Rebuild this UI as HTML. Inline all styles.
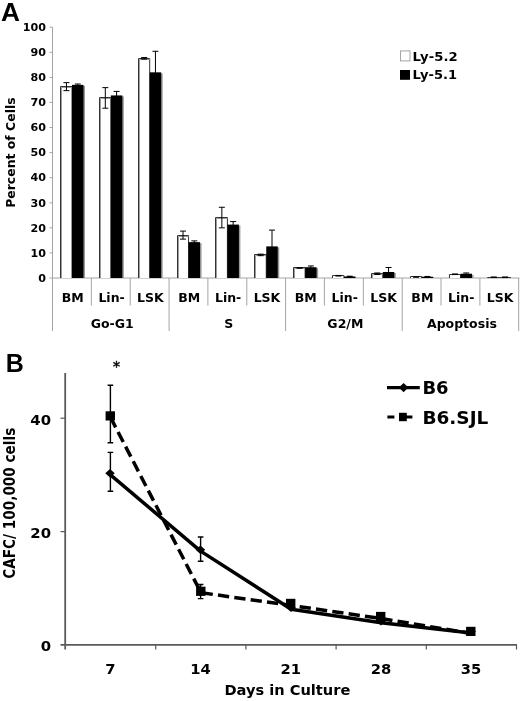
<!DOCTYPE html>
<html lang="en"><head><meta charset="utf-8"><title>Figure</title>
<style>html,body{margin:0;padding:0;background:#fff}svg{display:block}.v{font-family:"DejaVu Sans","Liberation Sans",sans-serif;font-weight:bold;fill:#000}.p{font-family:"Liberation Sans","DejaVu Sans",sans-serif;font-weight:bold;fill:#000}</style></head><body>
<svg width="520" height="701" viewBox="0 0 520 701">
<rect width="520" height="701" fill="#fff"/>
<text class="p" x="1" y="20.6" font-size="25" textLength="19" lengthAdjust="spacingAndGlyphs">A</text>
<g stroke="#a4a4a4" stroke-width="1" fill="none">
<path d="M52.5 27.2V278.0"/>
<path d="M49.5 278.0H52.5"/>
<path d="M49.5 252.9H52.5"/>
<path d="M49.5 227.8H52.5"/>
<path d="M49.5 202.8H52.5"/>
<path d="M49.5 177.7H52.5"/>
<path d="M49.5 152.6H52.5"/>
<path d="M49.5 127.5H52.5"/>
<path d="M49.5 102.4H52.5"/>
<path d="M49.5 77.4H52.5"/>
<path d="M49.5 52.3H52.5"/>
<path d="M49.5 27.2H52.5"/>
<path d="M52.5 278.0H519.5"/>
<path d="M52.5 278.0V331"/>
<path d="M91.3 278.0V305.5"/>
<path d="M130.2 278.0V305.5"/>
<path d="M169.1 278.0V331"/>
<path d="M207.9 278.0V305.5"/>
<path d="M246.8 278.0V305.5"/>
<path d="M285.6 278.0V331"/>
<path d="M324.4 278.0V305.5"/>
<path d="M363.3 278.0V305.5"/>
<path d="M402.2 278.0V331"/>
<path d="M441.0 278.0V305.5"/>
<path d="M479.9 278.0V305.5"/>
<path d="M518.7 278.0V331"/>
</g>
<text class="v" x="46.00" y="281.80" font-size="10.4" text-anchor="end" textLength="7.74" lengthAdjust="spacingAndGlyphs">0</text>
<text class="v" x="46.00" y="256.72" font-size="10.4" text-anchor="end" textLength="15.49" lengthAdjust="spacingAndGlyphs">10</text>
<text class="v" x="46.00" y="231.64" font-size="10.4" text-anchor="end" textLength="15.49" lengthAdjust="spacingAndGlyphs">20</text>
<text class="v" x="46.00" y="206.56" font-size="10.4" text-anchor="end" textLength="15.49" lengthAdjust="spacingAndGlyphs">30</text>
<text class="v" x="46.00" y="181.48" font-size="10.4" text-anchor="end" textLength="15.49" lengthAdjust="spacingAndGlyphs">40</text>
<text class="v" x="46.00" y="156.40" font-size="10.4" text-anchor="end" textLength="15.49" lengthAdjust="spacingAndGlyphs">50</text>
<text class="v" x="46.00" y="131.32" font-size="10.4" text-anchor="end" textLength="15.49" lengthAdjust="spacingAndGlyphs">60</text>
<text class="v" x="46.00" y="106.24" font-size="10.4" text-anchor="end" textLength="15.49" lengthAdjust="spacingAndGlyphs">70</text>
<text class="v" x="46.00" y="81.16" font-size="10.4" text-anchor="end" textLength="15.49" lengthAdjust="spacingAndGlyphs">80</text>
<text class="v" x="46.00" y="56.08" font-size="10.4" text-anchor="end" textLength="15.49" lengthAdjust="spacingAndGlyphs">90</text>
<text class="v" x="46.00" y="31.00" font-size="10.4" text-anchor="end" textLength="23.23" lengthAdjust="spacingAndGlyphs">100</text>
<text class="v" font-size="12.2" text-anchor="middle" textLength="110.5" lengthAdjust="spacingAndGlyphs" transform="translate(15.3 152.6) rotate(-90)">Percent of Cells</text>
<rect x="73.00" y="85.88" width="12.00" height="192.12" fill="#9a9a9a"/>
<path d="M60.50 278.0V86.50H72.00V278.0" fill="#fff" stroke="#333" stroke-width="1"/>
<path d="M61.50 278.0V87.50H72.00" fill="none" stroke="#9c9c9c" stroke-width="1"/>
<rect x="72.00" y="84.88" width="11.50" height="193.12" fill="#000"/>
<path d="M66.45 82.63V90.65M63.45 82.63h6M63.45 90.65h6" stroke="#000" stroke-width="1" fill="none"/>
<path d="M77.75 84.01V85.76M74.75 84.01h6M74.75 85.76h6" stroke="#000" stroke-width="1" fill="none"/>
<rect x="111.85" y="96.42" width="12.00" height="181.58" fill="#9a9a9a"/>
<path d="M99.50 278.0V97.50H110.85V278.0" fill="#fff" stroke="#333" stroke-width="1"/>
<path d="M100.50 278.0V98.50H110.85" fill="none" stroke="#9c9c9c" stroke-width="1"/>
<rect x="110.85" y="95.42" width="11.50" height="182.58" fill="#000"/>
<path d="M105.30 87.64V108.21M102.30 87.64h6M102.30 108.21h6" stroke="#000" stroke-width="1" fill="none"/>
<path d="M116.60 91.40V99.43M113.60 91.40h6M113.60 99.43h6" stroke="#000" stroke-width="1" fill="none"/>
<rect x="150.70" y="73.34" width="12.00" height="204.66" fill="#9a9a9a"/>
<path d="M138.50 278.0V58.50H149.70V278.0" fill="#fff" stroke="#333" stroke-width="1"/>
<path d="M139.50 278.0V59.50H149.70" fill="none" stroke="#9c9c9c" stroke-width="1"/>
<rect x="149.70" y="72.34" width="11.50" height="205.66" fill="#000"/>
<path d="M144.15 57.55V59.05M141.15 57.55h6M141.15 59.05h6" stroke="#000" stroke-width="1" fill="none"/>
<path d="M155.45 51.28V93.41M152.45 51.28h6M152.45 93.41h6" stroke="#000" stroke-width="1" fill="none"/>
<rect x="189.55" y="243.14" width="12.00" height="34.86" fill="#9a9a9a"/>
<path d="M177.50 278.0V235.50H188.55V278.0" fill="#fff" stroke="#333" stroke-width="1"/>
<path d="M178.50 278.0V236.50H188.55" fill="none" stroke="#9c9c9c" stroke-width="1"/>
<rect x="188.55" y="242.14" width="11.50" height="35.86" fill="#000"/>
<path d="M183.00 231.10V239.13M180.00 231.10h6M180.00 239.13h6" stroke="#000" stroke-width="1" fill="none"/>
<path d="M194.30 240.88V243.39M191.30 240.88h6M191.30 243.39h6" stroke="#000" stroke-width="1" fill="none"/>
<rect x="228.40" y="225.58" width="12.00" height="52.42" fill="#9a9a9a"/>
<path d="M215.50 278.0V217.50H227.40V278.0" fill="#fff" stroke="#333" stroke-width="1"/>
<path d="M216.50 278.0V218.50H227.40" fill="none" stroke="#9c9c9c" stroke-width="1"/>
<rect x="227.40" y="224.58" width="11.50" height="53.42" fill="#000"/>
<path d="M221.85 207.27V227.84M218.85 207.27h6M218.85 227.84h6" stroke="#000" stroke-width="1" fill="none"/>
<path d="M233.15 221.57V227.59M230.15 221.57h6M230.15 227.59h6" stroke="#000" stroke-width="1" fill="none"/>
<rect x="267.25" y="247.40" width="12.00" height="30.60" fill="#9a9a9a"/>
<path d="M254.50 278.0V254.50H266.25V278.0" fill="#fff" stroke="#333" stroke-width="1"/>
<path d="M255.50 278.0V255.50H266.25" fill="none" stroke="#9c9c9c" stroke-width="1"/>
<rect x="266.25" y="246.40" width="11.50" height="31.60" fill="#000"/>
<path d="M260.70 254.17V255.68M257.70 254.17h6M257.70 255.68h6" stroke="#000" stroke-width="1" fill="none"/>
<path d="M272.00 230.10V262.70M269.00 230.10h6M269.00 262.70h6" stroke="#000" stroke-width="1" fill="none"/>
<rect x="306.10" y="268.22" width="12.00" height="9.78" fill="#9a9a9a"/>
<path d="M293.50 278.0V267.50H305.10V278.0" fill="#fff" stroke="#333" stroke-width="1"/>
<path d="M294.50 278.0V268.50H305.10" fill="none" stroke="#9c9c9c" stroke-width="1"/>
<rect x="305.10" y="267.22" width="11.50" height="10.78" fill="#000"/>
<path d="M296.55 267.97h6" stroke="#000" stroke-width="1.6" fill="none"/>
<path d="M310.85 265.96V268.47M307.85 265.96h6M307.85 268.47h6" stroke="#000" stroke-width="1" fill="none"/>
<rect x="344.95" y="277.50" width="12.00" height="0.50" fill="#9a9a9a"/>
<path d="M332.50 278.0V275.50H343.95V278.0" fill="#fff" stroke="#333" stroke-width="1"/>
<rect x="343.95" y="276.50" width="11.50" height="1.50" fill="#000"/>
<path d="M335.40 275.74h6" stroke="#000" stroke-width="1.6" fill="none"/>
<path d="M346.70 276.50h6" stroke="#000" stroke-width="1.6" fill="none"/>
<rect x="383.80" y="272.98" width="12.00" height="5.02" fill="#9a9a9a"/>
<path d="M371.50 278.0V273.50H382.80V278.0" fill="#fff" stroke="#333" stroke-width="1"/>
<path d="M372.50 278.0V274.50H382.80" fill="none" stroke="#9c9c9c" stroke-width="1"/>
<rect x="382.80" y="271.98" width="11.50" height="6.02" fill="#000"/>
<path d="M377.25 272.98V274.49M374.25 272.98h6M374.25 274.49h6" stroke="#000" stroke-width="1" fill="none"/>
<path d="M388.55 267.47V276.50M385.55 267.47h6M385.55 276.50h6" stroke="#000" stroke-width="1" fill="none"/>
<rect x="422.65" y="277.75" width="12.00" height="0.25" fill="#9a9a9a"/>
<path d="M410.50 278.0V276.50H421.65V278.0" fill="#fff" stroke="#333" stroke-width="1"/>
<rect x="421.65" y="276.75" width="11.50" height="1.25" fill="#000"/>
<path d="M413.10 277.00h6" stroke="#000" stroke-width="1.6" fill="none"/>
<path d="M424.40 276.75h6" stroke="#000" stroke-width="1.6" fill="none"/>
<rect x="461.50" y="274.74" width="12.00" height="3.26" fill="#9a9a9a"/>
<path d="M449.50 278.0V274.50H460.50V278.0" fill="#fff" stroke="#333" stroke-width="1"/>
<rect x="460.50" y="273.74" width="11.50" height="4.26" fill="#000"/>
<path d="M451.95 274.24h6" stroke="#000" stroke-width="1.6" fill="none"/>
<path d="M466.25 272.98V274.49M463.25 272.98h6M463.25 274.49h6" stroke="#000" stroke-width="1" fill="none"/>
<rect x="500.35" y="278.25" width="12.00" height="-0.25" fill="#9a9a9a"/>
<path d="M487.50 278.0V277.50H499.35V278.0" fill="#fff" stroke="#333" stroke-width="1"/>
<rect x="499.35" y="277.25" width="11.50" height="0.75" fill="#000"/>
<path d="M490.80 277.25h6" stroke="#000" stroke-width="1.6" fill="none"/>
<path d="M502.10 277.25h6" stroke="#000" stroke-width="1.6" fill="none"/>
<text class="v" x="72.72" y="301.80" font-size="11.8" text-anchor="middle" textLength="21.98" lengthAdjust="spacingAndGlyphs">BM</text>
<text class="v" x="111.57" y="301.80" font-size="11.8" text-anchor="middle" textLength="26.35" lengthAdjust="spacingAndGlyphs">Lin-</text>
<text class="v" x="150.43" y="301.80" font-size="11.8" text-anchor="middle" textLength="26.67" lengthAdjust="spacingAndGlyphs">LSK</text>
<text class="v" x="189.28" y="301.80" font-size="11.8" text-anchor="middle" textLength="21.98" lengthAdjust="spacingAndGlyphs">BM</text>
<text class="v" x="228.13" y="301.80" font-size="11.8" text-anchor="middle" textLength="26.35" lengthAdjust="spacingAndGlyphs">Lin-</text>
<text class="v" x="266.98" y="301.80" font-size="11.8" text-anchor="middle" textLength="26.67" lengthAdjust="spacingAndGlyphs">LSK</text>
<text class="v" x="305.83" y="301.80" font-size="11.8" text-anchor="middle" textLength="21.98" lengthAdjust="spacingAndGlyphs">BM</text>
<text class="v" x="344.68" y="301.80" font-size="11.8" text-anchor="middle" textLength="26.35" lengthAdjust="spacingAndGlyphs">Lin-</text>
<text class="v" x="383.53" y="301.80" font-size="11.8" text-anchor="middle" textLength="26.67" lengthAdjust="spacingAndGlyphs">LSK</text>
<text class="v" x="422.38" y="301.80" font-size="11.8" text-anchor="middle" textLength="21.98" lengthAdjust="spacingAndGlyphs">BM</text>
<text class="v" x="461.23" y="301.80" font-size="11.8" text-anchor="middle" textLength="26.35" lengthAdjust="spacingAndGlyphs">Lin-</text>
<text class="v" x="500.08" y="301.80" font-size="11.8" text-anchor="middle" textLength="26.67" lengthAdjust="spacingAndGlyphs">LSK</text>
<text class="v" x="112.28" y="328.00" font-size="11.8" text-anchor="middle" textLength="43.02" lengthAdjust="spacingAndGlyphs">Go-G1</text>
<text class="v" x="228.83" y="328.00" font-size="11.8" text-anchor="middle" textLength="9.01" lengthAdjust="spacingAndGlyphs">S</text>
<text class="v" x="345.38" y="328.00" font-size="11.8" text-anchor="middle" textLength="35.99" lengthAdjust="spacingAndGlyphs">G2/M</text>
<text class="v" x="461.93" y="328.00" font-size="11.8" text-anchor="middle" textLength="69.93" lengthAdjust="spacingAndGlyphs">Apoptosis</text>
<rect x="400.5" y="50.9" width="9.5" height="10" fill="#fff" stroke="#a4a4a4" stroke-width="1"/>
<rect x="400" y="70" width="10" height="9.8" fill="#000"/>
<text class="v" x="412.6" y="60.6" font-size="12.4" textLength="45" lengthAdjust="spacingAndGlyphs">Ly-5.2</text>
<text class="v" x="412.6" y="79.2" font-size="12.4" textLength="44.5" lengthAdjust="spacingAndGlyphs">Ly-5.1</text>
<text class="p" x="5.8" y="372" font-size="25">B</text>
<g stroke="#5a5a5a" stroke-width="1.6" fill="none">
<path d="M65.2 373V649.5" stroke-width="1.8"/>
<path d="M60.5 644.9H517" stroke-width="1.9"/>
<path d="M60.5 531.6H65.5" stroke-width="1.2"/>
<path d="M60.5 418.2H65.5" stroke-width="1.2"/>
<path d="M155.7 645.0v4.5" stroke-width="1.2"/>
<path d="M245.9 645.0v4.5" stroke-width="1.2"/>
<path d="M336.1 645.0v4.5" stroke-width="1.2"/>
<path d="M426.3 645.0v4.5" stroke-width="1.2"/>
<path d="M516.5 645.0v4.5" stroke-width="1.2"/>
</g>
<text class="v" x="51.00" y="651.40" font-size="14.3" text-anchor="end" textLength="10.35" lengthAdjust="spacingAndGlyphs">0</text>
<text class="v" x="51.00" y="538.00" font-size="14.3" text-anchor="end" textLength="20.70" lengthAdjust="spacingAndGlyphs">20</text>
<text class="v" x="51.00" y="424.60" font-size="14.3" text-anchor="end" textLength="20.70" lengthAdjust="spacingAndGlyphs">40</text>
<text class="v" x="110.30" y="674.40" font-size="14.2" text-anchor="middle" textLength="10.28" lengthAdjust="spacingAndGlyphs">7</text>
<text class="v" x="200.50" y="674.40" font-size="14.2" text-anchor="middle" textLength="20.55" lengthAdjust="spacingAndGlyphs">14</text>
<text class="v" x="290.70" y="674.40" font-size="14.2" text-anchor="middle" textLength="20.55" lengthAdjust="spacingAndGlyphs">21</text>
<text class="v" x="380.90" y="674.40" font-size="14.2" text-anchor="middle" textLength="20.55" lengthAdjust="spacingAndGlyphs">28</text>
<text class="v" x="471.10" y="674.40" font-size="14.2" text-anchor="middle" textLength="20.55" lengthAdjust="spacingAndGlyphs">35</text>
<text class="v" x="287.4" y="695.0" font-size="14.8" text-anchor="middle" textLength="126" lengthAdjust="spacingAndGlyphs">Days in Culture</text>
<text class="v" font-size="15" text-anchor="middle" textLength="151" lengthAdjust="spacingAndGlyphs" transform="translate(15.4 503.2) rotate(-90)">CAFC/ 100,000 cells</text>
<text x="116.5" y="371.3" font-size="14" stroke="#000" stroke-width="0.5" text-anchor="middle" style="font-family:'DejaVu Sans',sans-serif" fill="#111">*</text>
<path d="M110.40 385.20V442.80M107.60 385.20h5.6M107.60 442.80h5.6" stroke="#000" stroke-width="1.4" fill="none"/>
<path d="M110.40 452.40V491.20M107.60 452.40h5.6M107.60 491.20h5.6" stroke="#000" stroke-width="1.4" fill="none"/>
<path d="M200.60 537.00V561.20M197.80 537.00h5.6M197.80 561.20h5.6" stroke="#000" stroke-width="1.4" fill="none"/>
<path d="M200.60 584.50V598.60M197.80 584.50h5.6M197.80 598.60h5.6" stroke="#000" stroke-width="1.4" fill="none"/>
<polyline points="110.50,417.30 201.00,592.70 290.90,605.40 380.90,618.50 471.00,633.40" fill="none" stroke="#000" stroke-width="3.5" stroke-dasharray="11.3 5.2" stroke-linejoin="round"/>
<polyline points="110.20,474.60 200.60,551.10 291.20,609.20 381.20,622.70 471.20,633.00" fill="none" stroke="#000" stroke-width="3.5" stroke-linejoin="round"/>
<rect x="105.60" y="411.30" width="9.4" height="9.2" fill="#000"/>
<path d="M105.20 473.20L110.00 468.90L114.80 473.20L110.00 477.50Z" fill="#000"/>
<rect x="196.10" y="586.70" width="9.4" height="9.2" fill="#000"/>
<path d="M195.60 549.70L200.40 545.40L205.20 549.70L200.40 554.00Z" fill="#000"/>
<rect x="286.00" y="598.80" width="9.4" height="9.2" fill="#000"/>
<path d="M286.20 607.80L291.00 603.50L295.80 607.80L291.00 612.10Z" fill="#000"/>
<rect x="376.00" y="611.90" width="9.4" height="9.2" fill="#000"/>
<path d="M376.20 621.30L381.00 617.00L385.80 621.30L381.00 625.60Z" fill="#000"/>
<rect x="466.10" y="626.80" width="9.4" height="9.2" fill="#000"/>
<path d="M466.20 631.60L471.00 627.30L475.80 631.60L471.00 635.90Z" fill="#000"/>
<path d="M387 387.6H419.8" stroke="#000" stroke-width="3.2" fill="none"/>
<path d="M398.9 387.6L403.6 382.9L408.3 387.6L403.6 392.3Z" fill="#000"/>
<path d="M387.4 417H394.4M406 417H412.4" stroke="#000" stroke-width="3.2" fill="none"/>
<rect x="399" y="412.8" width="7.8" height="8.4" fill="#000"/>
<text class="v" x="422.40" y="394.40" font-size="17.6" text-anchor="start" textLength="26.17" lengthAdjust="spacingAndGlyphs">B6</text>
<text class="v" x="422.40" y="424.20" font-size="17.6" text-anchor="start" textLength="65.92" lengthAdjust="spacingAndGlyphs">B6.SJL</text>
</svg></body></html>
